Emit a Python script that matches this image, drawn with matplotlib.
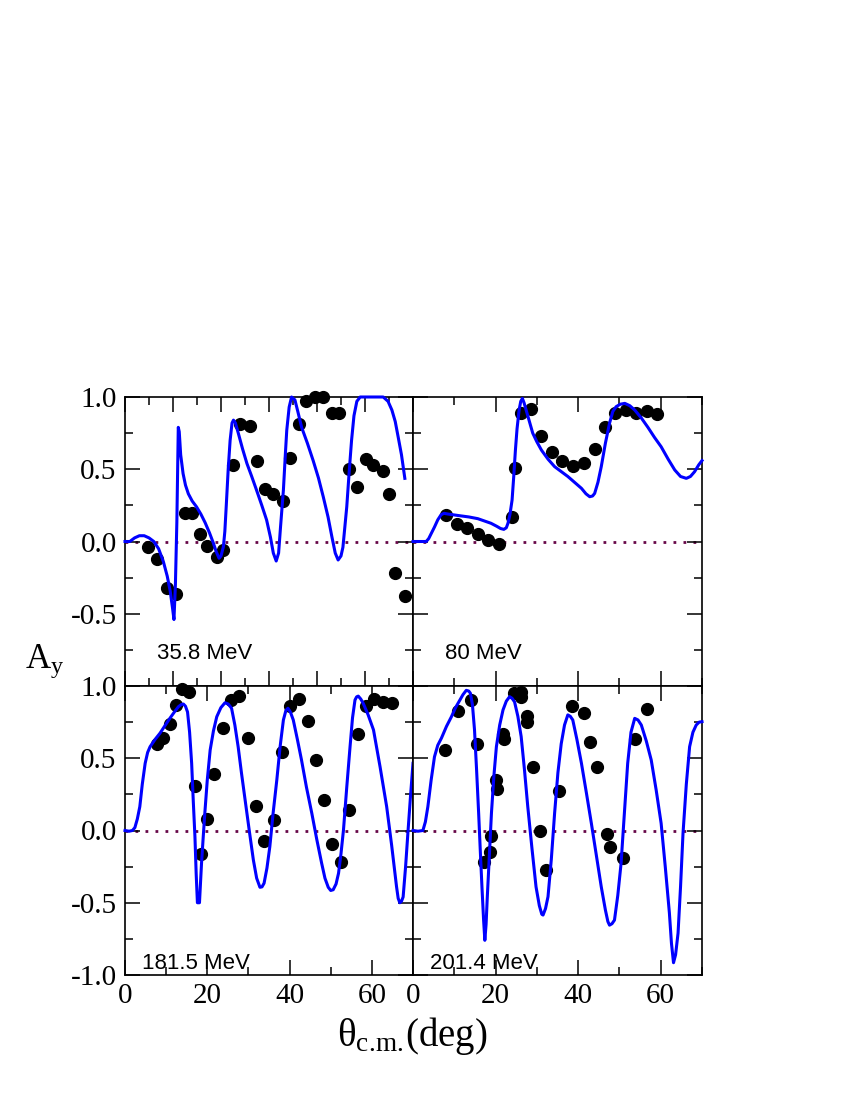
import matplotlib
matplotlib.use("Agg")
import matplotlib.pyplot as plt
from matplotlib.ticker import MultipleLocator, FormatStrFormatter

plt.rcParams['axes.unicode_minus'] = False
plt.rcParams['mathtext.fontset'] = 'custom'
plt.rcParams['mathtext.rm'] = 'Liberation Serif'
plt.rcParams['mathtext.it'] = 'Liberation Serif:italic'

# ---------------- data ----------------
energy_labels = ["35.8 MeV", "80 MeV", "181.5 MeV", "201.4 MeV"]

# 35.8 MeV
theta_358 = [4.7, 6.6, 8.8, 10.6, 12.4, 13.9, 15.6, 17.1, 19.2, 20.5, 22.6, 24.0, 26.0, 27.4,
             29.2, 30.8, 32.9, 34.4, 36.2, 37.8, 39.6, 41.2, 43.1, 44.6, 46.7, 48.3, 50.2,
             51.7, 53.8, 54.9, 56.3, 58.3]
ay_358 = [-0.04, -0.12, -0.32, -0.36, 0.20, 0.20, 0.05, -0.03, -0.11, -0.06, 0.53, 0.81, 0.80,
          0.56, 0.36, 0.33, 0.28, 0.58, 0.81, 0.97, 1.0, 1.0, 0.89, 0.89, 0.50, 0.38, 0.57,
          0.53, 0.49, 0.33, -0.22, -0.38]
curve_theta_358 = [0, 1, 2, 3, 4, 5, 6, 7, 8, 8.8, 9.4, 9.9, 10.2, 10.5, 10.8, 11.1, 11.3, 11.6,
                   12.1, 12.6, 13.2, 14.0, 14.9, 15.8, 16.7, 17.6, 18.4, 19.0, 19.6, 20.0, 20.5,
                   20.8, 21.1, 21.5, 21.9, 22.3, 22.6, 23.0, 23.6, 24.5, 25.4, 26.4, 27.4, 28.5,
                   29.5, 30.3, 30.9, 31.5, 32.0, 32.4, 33.0, 33.4, 33.7, 34.2, 34.7, 35.4, 36.0,
                   36.8, 38.0, 39.2, 40.3, 41.3, 42.3, 43.1, 43.8, 44.4, 45.0, 45.4, 45.8, 46.2,
                   46.7, 47.2, 47.7, 48.3, 49.0, 49.6, 53.8, 54.8, 55.6, 56.3, 56.9, 57.6, 58.3]
curve_ay_358 = [0, 0, 0.025, 0.04, 0.04, 0.025, 0.0, -0.05, -0.14, -0.24, -0.34, -0.46, -0.54,
                -0.30, 0.13, 0.79, 0.76, 0.60, 0.47, 0.39, 0.33, 0.28, 0.24, 0.19, 0.13, 0.06,
                -0.01, -0.07, -0.116, -0.10, -0.036, 0.07, 0.25, 0.50, 0.70, 0.82, 0.84, 0.82,
                0.75, 0.64, 0.54, 0.45, 0.356, 0.25, 0.149, 0.03, -0.08, -0.135, -0.08, 0.10,
                0.356, 0.60, 0.77, 0.93, 1.0, 0.98, 0.90, 0.79, 0.68, 0.56, 0.44, 0.31, 0.17,
                0.033, -0.08, -0.128, -0.10, -0.04, 0.10, 0.24, 0.48, 0.70, 0.87, 0.97, 1.0,
                1.0, 1.0, 0.97, 0.91, 0.83, 0.725, 0.60, 0.437]

# 80 MeV
theta_80 = [8.1, 10.7, 13.1, 15.7, 18.2, 20.8, 24.0, 24.6, 26.1, 28.7, 31.1, 33.7, 36.2, 38.8,
            41.3, 44.0, 46.5, 49.0, 51.6, 54.1, 56.6, 59.1]
ay_80 = [0.18, 0.12, 0.09, 0.05, 0.01, -0.015, 0.17, 0.51, 0.89, 0.92, 0.73, 0.62, 0.56, 0.52,
         0.54, 0.64, 0.79, 0.89, 0.91, 0.89, 0.90, 0.88]
curve_theta_80 = [0, 3.2, 3.8, 4.5, 5.2, 6.0, 6.8, 7.5, 8.5, 10.9, 13.5, 15.7, 17.5, 18.9, 20.3,
                  21.2, 22.0, 22.6, 23.0, 23.5, 24.0, 24.4, 24.8, 25.2, 25.7, 26.1, 26.5, 26.9,
                  27.4, 28.2, 29.0, 30.0, 31.1, 32.7, 34.3, 37.5, 40.8, 41.9, 42.8, 43.5, 44.0,
                  44.8, 45.6, 46.6, 47.6, 48.4, 49.2, 50.2, 51.3, 52.5, 53.7, 55.3, 56.9, 58.5,
                  60.1, 61.8, 63.4, 64.8, 66.2, 67.2, 68.2, 69.2, 70.0]
curve_ay_80 = [0, 0, 0.02, 0.06, 0.10, 0.15, 0.185, 0.195, 0.19, 0.18, 0.17, 0.158, 0.14, 0.126,
               0.105, 0.09, 0.084, 0.095, 0.126, 0.19, 0.287, 0.45, 0.63, 0.78, 0.91, 0.97,
               0.99, 0.96, 0.91, 0.83, 0.75, 0.69, 0.633, 0.57, 0.518, 0.45, 0.368, 0.33, 0.31,
               0.315, 0.333, 0.41, 0.518, 0.68, 0.818, 0.90, 0.933, 0.95, 0.956, 0.94, 0.91,
               0.855, 0.79, 0.72, 0.656, 0.57, 0.495, 0.45, 0.437, 0.45, 0.483, 0.53, 0.56]

# 181.5 MeV
theta_1815 = [7.7, 9.3, 10.9, 12.4, 13.9, 15.6, 17.0, 18.4, 20.0, 21.7, 23.7, 25.8, 27.8, 29.8,
              31.9, 33.8, 36.1, 38.2, 40.2, 42.2, 44.4, 46.4, 48.4, 50.4, 52.4, 54.5, 56.6,
              58.6, 60.6, 62.8, 64.8]
ay_1815 = [0.60, 0.64, 0.74, 0.87, 0.98, 0.96, 0.31, -0.16, 0.08, 0.39, 0.71, 0.90, 0.93, 0.64,
           0.17, -0.075, 0.07, 0.54, 0.86, 0.91, 0.76, 0.49, 0.21, -0.09, -0.22, 0.14, 0.67,
           0.86, 0.91, 0.89, 0.88]
curve_theta_1815 = [0, 1.0, 1.8, 2.4, 3.0, 3.6, 4.2, 4.9, 5.5, 6.1, 7.3, 8.5, 9.7, 10.9, 12.0,
                    13.0, 13.7, 14.2, 14.7, 15.2, 15.7, 16.2, 16.6, 17.0, 17.3, 17.6, 18.1, 18.6,
                    19.0, 19.4, 20.0, 20.7, 21.5, 22.3, 23.3, 24.3, 25.1, 25.9, 26.7, 27.5, 28.3,
                    29.2, 30.2, 31.2, 32.0, 32.8, 33.3, 33.8, 34.5, 35.2, 36.0, 36.9, 37.7, 38.5,
                    39.1, 39.6, 40.2, 40.9, 41.9, 42.9, 44.1, 45.4, 46.6, 47.8, 48.6, 49.4, 50.0,
                    50.6, 51.3, 51.9, 52.5, 53.1, 53.9, 54.7, 55.3, 55.9, 56.3, 56.7, 57.3, 57.9,
                    59.1, 60.4, 62.0, 63.6, 64.8, 66.0, 66.4, 66.8, 67.2, 67.6, 68.2, 68.8, 69.4,
                    70.0]
curve_ay_1815 = [0, -0.005, 0, 0.02, 0.08, 0.165, 0.32, 0.465, 0.54, 0.58, 0.63, 0.673, 0.725,
                 0.776, 0.82, 0.857, 0.872, 0.875, 0.86, 0.82, 0.68, 0.465, 0.20, -0.043, -0.30,
                 -0.50, -0.50, -0.227, -0.05, 0.12, 0.35, 0.557, 0.69, 0.787, 0.85, 0.884, 0.875,
                 0.846, 0.73, 0.58, 0.40, 0.21, 0.0, -0.204, -0.33, -0.393, -0.39, -0.365, -0.26,
                 -0.112, 0.12, 0.35, 0.58, 0.765, 0.83, 0.846, 0.82, 0.765, 0.63, 0.488, 0.30,
                 0.12, -0.06, -0.227, -0.33, -0.393, -0.415, -0.41, -0.37, -0.296, -0.16, 0.003,
                 0.30, 0.58, 0.78, 0.903, 0.925, 0.93, 0.91, 0.88, 0.80, 0.696, 0.44, 0.165,
                 -0.10, -0.389, -0.47, -0.50, -0.49, -0.46, -0.25, 0.0, 0.24, 0.465]

# 201.4 MeV
theta_2014 = [7.7, 10.9, 14.1, 15.6, 17.2, 18.6, 18.8, 20.2, 20.3, 21.8, 22.0, 24.4, 26.1, 26.2,
              27.5, 27.5, 29.1, 30.8, 32.1, 35.4, 38.4, 41.5, 42.9, 44.6, 47.0, 47.6, 50.8,
              53.8, 56.6]
ay_2014 = [0.56, 0.83, 0.90, 0.60, -0.22, -0.15, -0.036, 0.35, 0.29, 0.67, 0.63, 0.95, 0.96,
           0.926, 0.79, 0.75, 0.44, 0.0, -0.27, 0.27, 0.86, 0.815, 0.61, 0.44, -0.024, -0.117,
           -0.19, 0.63, 0.84]
curve_theta_2014 = [0, 1.2, 2.4, 3.0, 3.6, 4.4, 5.2, 6.0, 6.9, 8.1, 9.3, 10.3, 11.3, 12.1, 12.9,
                    13.5, 13.9, 14.4, 14.9, 15.4, 15.9, 16.3, 16.7, 17.1, 17.4, 17.7, 18.0, 18.5,
                    19.0, 19.6, 20.2, 21.0, 21.8, 22.6, 23.4, 24.0, 24.6, 25.4, 26.2, 27.0, 27.8,
                    28.8, 29.8, 30.6, 31.2, 31.5, 32.1, 32.7, 33.5, 34.3, 35.1, 35.9, 36.7, 37.5,
                    38.1, 38.7, 39.7, 40.8, 42.0, 43.2, 44.4, 45.6, 46.6, 47.2, 47.6, 48.2, 48.8,
                    49.6, 50.4, 51.2, 52.0, 52.8, 53.7, 54.5, 55.3, 56.5, 57.7, 58.9, 60.1, 61.1,
                    62.1, 62.6, 63.1, 63.6, 64.2, 64.8, 65.4, 66.2, 67.0, 67.8, 68.6, 69.3, 70.0]
curve_ay_2014 = [0, -0.005, 0, 0.06, 0.165, 0.35, 0.51, 0.59, 0.64, 0.72, 0.787, 0.85, 0.90,
                 0.94, 0.97, 0.965, 0.95, 0.87, 0.696, 0.42, 0.12, -0.14, -0.39, -0.62, -0.76,
                 -0.65, -0.458, -0.17, 0.12, 0.38, 0.58, 0.73, 0.834, 0.895, 0.926, 0.915, 0.89,
                 0.79, 0.65, 0.42, 0.165, -0.12, -0.39, -0.52, -0.58, -0.585, -0.54, -0.458,
                 -0.20, 0.12, 0.40, 0.60, 0.73, 0.80, 0.79, 0.765, 0.63, 0.465, 0.26, 0.05,
                 -0.17, -0.39, -0.55, -0.63, -0.655, -0.645, -0.62, -0.45, -0.227, 0.12, 0.465,
                 0.68, 0.776, 0.765, 0.73, 0.62, 0.488, 0.28, 0.05, -0.25, -0.57, -0.78, -0.915,
                 -0.86, -0.71, -0.39, -0.02, 0.32, 0.58, 0.68, 0.73, 0.75, 0.753]

panels = [
    (theta_358, ay_358, curve_theta_358, curve_ay_358, 60, 10, 5),
    (theta_80, ay_80, curve_theta_80, curve_ay_80, 70, 20, 10),
    (theta_1815, ay_1815, curve_theta_1815, curve_ay_1815, 70, 20, 10),
    (theta_2014, ay_2014, curve_theta_2014, curve_ay_2014, 70, 20, 10),
]

# ---------------- figure ----------------
fig = plt.figure(figsize=(8.5, 11), dpi=100)
W, H = 850.0, 1100.0
lefts = [125, 413]
tops = [397, 686]
pw = [288, 289]
ph = 289

label_pos = [(0.111, 0.095), (0.111, 0.095), (0.058, 0.02), (0.06, 0.02)]

for i, (tx, ty, cx, cy, xmax, xmaj, xmin) in enumerate(panels):
    r, c = divmod(i, 2)
    ax = fig.add_axes([lefts[c] / W, 1 - (tops[r] + ph) / H, pw[c] / W, ph / H])
    ax.set_xlim(0, xmax)
    ax.set_ylim(-1.0, 1.0)
    ax.plot([0, xmax], [0, 0], linestyle=(0, (1, 2.6)), color='#670748', lw=2.0, zorder=1)
    ax.plot(tx, ty, 'o', color='black', ms=8.5, zorder=2, clip_on=False)
    ax.plot(cx, cy, '-', color='#0000ff', lw=2.2, zorder=3, clip_on=False,
            solid_joinstyle='round')

    ax.xaxis.set_major_locator(MultipleLocator(xmaj))
    ax.xaxis.set_minor_locator(MultipleLocator(xmin))
    ax.yaxis.set_major_locator(MultipleLocator(0.5))
    ax.yaxis.set_minor_locator(MultipleLocator(0.25))
    ax.yaxis.set_major_formatter(FormatStrFormatter('%.1f'))
    ax.tick_params(which='both', direction='in', top=True, right=True, width=1.1,
                   labelsize=21, pad=6)
    ax.tick_params(which='major', length=11)
    ax.tick_params(which='minor', length=5.8)
    for lab in ax.get_xticklabels() + ax.get_yticklabels():
        lab.set_family('Liberation Serif')
    for sp in ax.spines.values():
        sp.set_linewidth(1.2)

    if r == 0:
        ax.tick_params(labelbottom=False)
        if c == 0:
            ax.set_yticks([-0.5, 0.0, 0.5, 1.0])
            ax.yaxis.set_minor_locator(MultipleLocator(0.25))
    if c == 1:
        ax.tick_params(labelleft=False)

    ax.text(label_pos[i][0], label_pos[i][1], energy_labels[i], transform=ax.transAxes,
            fontsize=16, family='Liberation Sans', ha='left', va='baseline')

fig.text(0.053, 1 - 668 / H, r'$\mathrm{A}_\mathrm{y}$', fontsize=25, ha='center',
         va='baseline')
fig.text(412 / W, 1 - 1046 / H, r'$\mathrm{θ}_{\mathrm{c.\!m.\!}}$(deg)', fontsize=28,
         family='Liberation Serif', ha='center', va='baseline')

fig.savefig('out.png', dpi=100)
